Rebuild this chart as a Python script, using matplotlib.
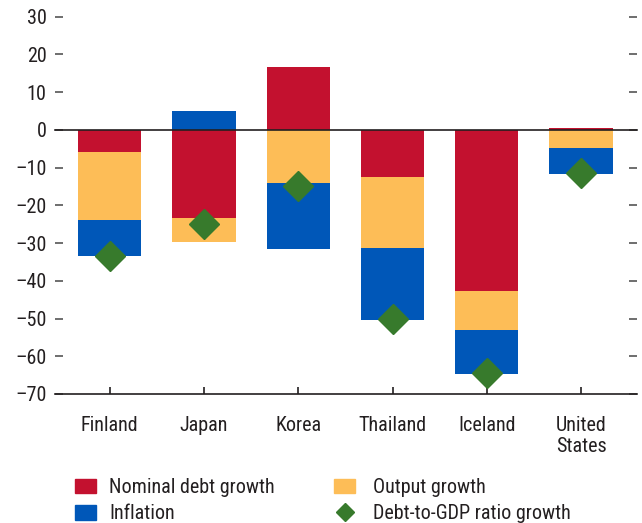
import numpy as np
import matplotlib
matplotlib.use("Agg")
from matplotlib import pyplot as plt
from matplotlib.lines import Line2D
from matplotlib.patches import Patch

plt.rcParams['font.family'] = ['Roboto Condensed', 'DejaVu Sans']

# Data (percentage points)
countries = ["Finland", "Japan", "Korea", "Thailand", "Iceland", "United\nStates"]
nominal_debt = [-5.8, -23.3, 16.8, -12.6, -42.6, 0.6]
output_growth = [-18.0, -6.5, -14.2, -18.8, -10.4, -4.7]
inflation = [-9.7, 4.9, -17.4, -18.9, -11.6, -7.1]
ratio_growth = [-33.3, -25.0, -14.8, -50.1, -64.5, -11.3]

RED = "#C3112F"
ORANGE = "#FDBD57"
BLUE = "#0057B8"
GREEN = "#377A2C"
TXT = "#231F20"
FS = 14.5

fig = plt.figure(figsize=(6.42, 5.23), dpi=100)
ax = fig.add_axes([0.0857, 0.2467, 0.906, 0.7213])

x = np.arange(len(countries))
width = 0.67

# stack positives upward and negatives downward
pos = np.zeros(len(countries))
neg = np.zeros(len(countries))
for vals, col in [(nominal_debt, RED), (output_growth, ORANGE), (inflation, BLUE)]:
    vals = np.array(vals)
    bottom = np.where(vals >= 0, pos, neg)
    ax.bar(x, vals, width, bottom=bottom, color=col, zorder=2)
    pos = pos + np.where(vals >= 0, vals, 0)
    neg = neg + np.where(vals < 0, vals, 0)

ax.plot(x, ratio_growth, linestyle="none", marker="D", markersize=15,
        color=GREEN, zorder=4)

ax.axhline(0, color=TXT, lw=1.2, zorder=3, clip_on=False)

ax.set_xlim(-0.58, 5.59)
ax.set_ylim(-70, 30)
ax.set_yticks(np.arange(-70, 31, 10))
ax.set_yticklabels([f"{v}".replace("-", "\u2013") for v in range(-70, 31, 10)])
ax.set_xticks(x)
ax.set_xticklabels(countries, linespacing=1.15)

for s in ["top", "left", "right"]:
    ax.spines[s].set_visible(False)
ax.spines["bottom"].set_color(TXT)
ax.spines["bottom"].set_linewidth(1.2)

ax.tick_params(axis="y", direction="in", length=6, width=1.2, color="#555555",
               labelsize=FS, labelcolor=TXT, pad=6, right=True)
ax.tick_params(axis="x", direction="in", length=5, width=1.2, color=TXT,
               labelsize=FS, labelcolor=TXT, pad=16)

col1 = [Patch(color=RED, label="Nominal debt growth"),
        Patch(color=BLUE, label="Inflation")]
col2 = [Patch(color=ORANGE, label="Output growth"),
        Line2D([], [], linestyle="none", marker="D", markersize=9.5,
               color=GREEN, label="Debt-to-GDP ratio growth")]
kw = dict(loc="upper left", frameon=False, fontsize=FS, handlelength=1.05,
          handleheight=0.75, labelspacing=0.37, borderpad=0, borderaxespad=0)
leg1 = fig.legend(handles=col1, bbox_to_anchor=(75 / 642, 1 - 478 / 523),
                  handletextpad=0.65, **kw)
leg2 = fig.legend(handles=col2, bbox_to_anchor=(334 / 642, 1 - 478 / 523),
                  handletextpad=0.9, **kw)
for leg in (leg1, leg2):
    for t in leg.get_texts():
        t.set_color(TXT)

fig.savefig("out.png", dpi=100)
